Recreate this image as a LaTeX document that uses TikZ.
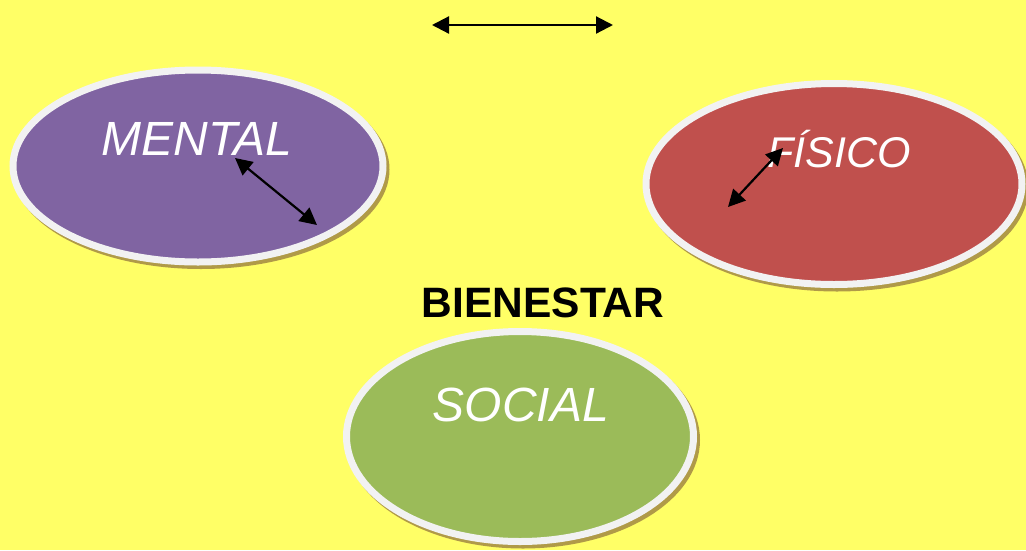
\documentclass[tikz,border=0pt]{standalone}
\usepackage{fontspec}
\setmainfont{Liberation Sans}
\usetikzlibrary{shapes.geometric,arrows.meta}
\definecolor{bgyellow}{HTML}{FFFF66}
\definecolor{cpurple}{HTML}{8064A2}
\definecolor{cred}{HTML}{C0504D}
\definecolor{cgreen}{HTML}{9BBB59}
\definecolor{cring}{HTML}{F2F2F2}
\definecolor{cshadow}{HTML}{B09A48}
\tikzset{
  blob/.style={ellipse, inner sep=0pt, draw=cring, line width=7pt},
  blobshadow/.style={ellipse, inner sep=0pt, fill=cshadow, draw=cshadow, line width=7pt},
  lbl/.style={text=white, font=\fontsize{48}{48}\selectfont\itshape, anchor=base},
  dbl/.style={line width=2.2pt, {Triangle[length=17pt,width=17pt]}-{Triangle[length=17pt,width=17pt]}}
}
\begin{document}
\begin{tikzpicture}[x=1pt,y=-1pt]
\fill[bgyellow] (0,0) rectangle (1026,550);
\useasboundingbox (0,0) rectangle (1026,550);
% shadows
\node[blobshadow, minimum width=370pt, minimum height=192pt] at (201,169.5) {};
\node[blobshadow, minimum width=376pt, minimum height=201pt] at (837,187.5) {};
\node[blobshadow, minimum width=347pt, minimum height=210pt] at (523,440) {};
% ellipses
\node[blob, fill=cpurple, minimum width=370pt, minimum height=192pt] (mental) at (198,166) {};
\node[blob, fill=cred, minimum width=376pt, minimum height=201pt] (fisico) at (834,184) {};
\node[blob, fill=cgreen, minimum width=347pt, minimum height=210pt] (social) at (520,436.5) {};
% labels
\node[lbl] (tm) at (197,155) {MENTAL};
\node[lbl, font=\fontsize{43}{43}\selectfont\itshape] (tf) at (839,167) {FÍSICO};
\node[lbl] (ts) at (521,421) {SOCIAL};
\node[anchor=base, font=\fontsize{42.5}{42.5}\selectfont\bfseries] (bien) at (543,317) {BIENESTAR};
% arrows
\coordinate (a1) at (432,25);
\coordinate (a2) at (613,25);
\coordinate (m1) at (235,158);
\coordinate (m2) at (317,225);
\coordinate (f1) at (783,148);
\coordinate (f2) at (728,207);
\draw[dbl] (a1) -- (a2);
\draw[dbl] (m1) -- (m2);
\draw[dbl] (f1) -- (f2);
\end{tikzpicture}
\end{document}
